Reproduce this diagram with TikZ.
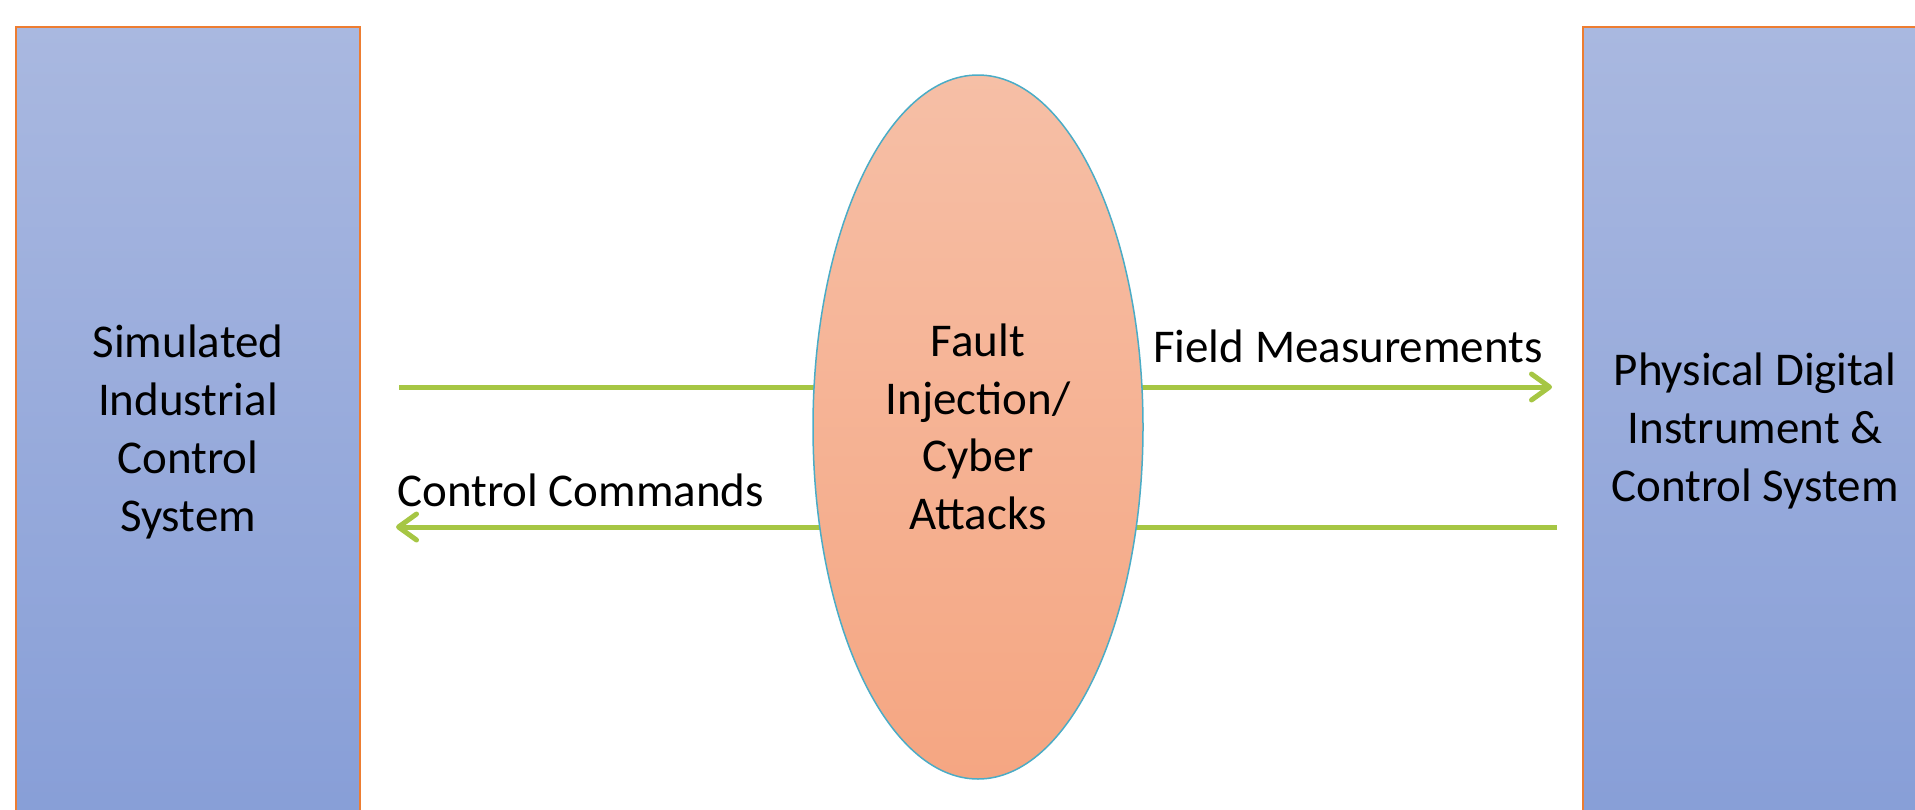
\documentclass[tikz,border=0pt]{standalone}
\usepackage{fontspec}
\setmainfont{Carlito}
\usetikzlibrary{shapes.geometric,arrows.meta}
\definecolor{rectTop}{RGB}{169,184,224}
\definecolor{rectBot}{RGB}{135,158,215}
\definecolor{rectEdge}{RGB}{237,125,49}
\definecolor{ellTop}{RGB}{246,191,166}
\definecolor{ellBot}{RGB}{245,166,130}
\definecolor{ellEdge}{RGB}{75,172,198}
\definecolor{arrowGreen}{RGB}{166,198,68}
\tikzset{
  sysbox/.style={draw=rectEdge, line width=2pt, top color=rectTop, bottom color=rectBot,
    minimum width=344pt, minimum height=800pt, inner sep=0pt},
  systext/.style={align=center, inner sep=0pt, font=\fontsize{47}{58.3}\selectfont},
  faultell/.style={ellipse, draw=ellEdge, line width=1.5pt, top color=ellTop, bottom color=ellBot,
    minimum width=330pt, minimum height=704pt, inner sep=0pt, align=center,
    font=\fontsize{47}{57.5}\selectfont},
  flow/.style={draw=arrowGreen, line width=5pt},
  flowtip/.style={-{Straight Barb[length=18pt,width=26pt,round]}},
  lbl/.style={font=\fontsize{47}{58}\selectfont, inner sep=0pt, anchor=base west}
}
\begin{document}
\begin{tikzpicture}[x=1pt,y=-1pt]
\useasboundingbox (0,0) rectangle (1915,809);
% connectors (behind the ellipse)
\coordinate (fmStart) at (399,387);
\coordinate (fmEnd) at (1552,387);
\coordinate (ccStart) at (1557,527);
\coordinate (ccEnd) at (396,527);
\draw[flow, flowtip] (fmStart) -- (fmEnd);
\draw[flow, flowtip] (ccStart) -- (ccEnd);
% boxes
\node[sysbox] (sim) at (188,427) {};
\node[systext] (simText) at (188,432) {Simulated\\Industrial\\Control\\System};
\node[sysbox] (phys) at (1755,427) {};
\node[systext] (physText) at (1755,431) {Physical Digital\\Instrument \&\\Control System};
\node[faultell] (fault) at (978,427) {Fault\\Injection/\\Cyber\\Attacks};
% labels
\node[lbl] (fmLabel) at (1153,362) {Field Measurements};
\node[lbl] (ccLabel) at (397,506) {Control Commands};
\end{tikzpicture}
\end{document}
